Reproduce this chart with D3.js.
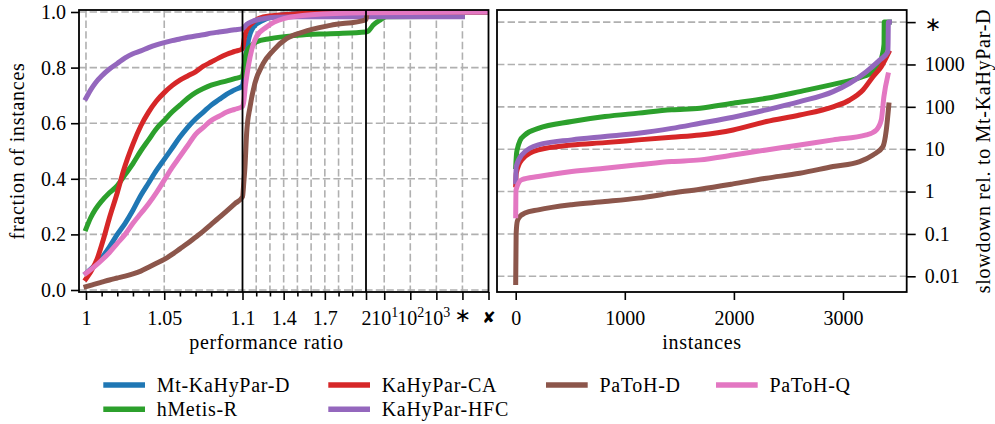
<!DOCTYPE html>
<html>
<head>
<meta charset="utf-8">
<script src="https://cdn.jsdelivr.net/npm/d3@7/dist/d3.min.js"></script>
<style>
  html, body { margin: 0; padding: 0; background: #fff; }
  svg text { font-family: "Liberation Serif", "Times New Roman", serif; fill: #000; }
  .sym { font-family: "DejaVu Sans", sans-serif; }
  .label { letter-spacing: 0.7px; }
</style>
</head>
<body>
<svg id="chart" width="995" height="424"></svg>
<script>
// ---- algorithms ----
const algoNames  = ["Mt-KaHyPar-D", "hMetis-R", "KaHyPar-CA", "KaHyPar-HFC", "PaToH-D", "PaToH-Q"];
const algoColors = ["#1f77b4", "#2ca02c", "#d62728", "#9467bd", "#8c564b", "#e377c2"];

// ---- performance profiles: [ratio, fraction of instances] ----
const profileMtKaHyParD = [
  [1, 0.06], [1.005, 0.085], [1.01, 0.115], [1.015, 0.155], [1.02, 0.2], [1.025, 0.24],
  [1.03, 0.287], [1.035, 0.34], [1.04, 0.385], [1.045, 0.43], [1.05, 0.47], [1.055, 0.51],
  [1.06, 0.55], [1.065, 0.585], [1.07, 0.615], [1.075, 0.64], [1.08, 0.665], [1.085, 0.685],
  [1.09, 0.705], [1.095, 0.72], [1.1, 0.735], [1.11, 0.77], [1.118, 0.814], [1.143, 0.898],
  [1.18, 0.946], [1.25, 0.97], [1.37, 0.988], [1.6, 0.997], [2, 1.0], [1e5, 1.0]
];
const profileHMetisR = [
  [1, 0.22], [1.003, 0.26], [1.006, 0.29], [1.01, 0.32], [1.015, 0.35], [1.02, 0.375],
  [1.025, 0.415], [1.03, 0.455], [1.035, 0.5], [1.04, 0.54], [1.045, 0.58], [1.05, 0.61],
  [1.055, 0.64], [1.06, 0.665], [1.065, 0.69], [1.07, 0.71], [1.075, 0.725], [1.08, 0.737],
  [1.085, 0.745], [1.09, 0.752], [1.095, 0.76], [1.1, 0.77], [1.11, 0.8], [1.118, 0.832],
  [1.135, 0.86], [1.155, 0.874], [1.2, 0.892], [1.3, 0.904], [1.5, 0.916], [1.74, 0.922],
  [2, 0.928], [2.5, 0.932], [3.8, 0.953], [6.9, 0.971], [12, 0.983], [1e4, 0.985]
];
const profileKaHyParCA = [
  [1, 0.04], [1.0035, 0.07], [1.007, 0.11], [1.011, 0.18], [1.015, 0.26], [1.02, 0.35],
  [1.024, 0.43], [1.03, 0.525], [1.035, 0.59], [1.04, 0.64], [1.045, 0.68], [1.05, 0.71],
  [1.055, 0.735], [1.06, 0.755], [1.065, 0.77], [1.07, 0.785], [1.075, 0.805], [1.08, 0.82],
  [1.085, 0.835], [1.09, 0.848], [1.095, 0.858], [1.1, 0.868], [1.115, 0.91], [1.13, 0.934],
  [1.18, 0.964], [1.25, 0.982], [1.5, 0.994], [2, 1.0], [1e5, 1.0]
];
const profileKaHyParHFC = [
  [1, 0.69], [1.003, 0.72], [1.006, 0.745], [1.01, 0.77], [1.015, 0.795], [1.02, 0.815],
  [1.025, 0.835], [1.03, 0.85], [1.035, 0.86], [1.04, 0.872], [1.045, 0.882], [1.05, 0.89],
  [1.055, 0.897], [1.06, 0.903], [1.065, 0.909], [1.07, 0.914], [1.075, 0.918], [1.08, 0.924],
  [1.085, 0.928], [1.09, 0.932], [1.095, 0.936], [1.1, 0.94], [1.13, 0.955], [1.17, 0.966],
  [1.25, 0.976], [1.35, 0.981], [1.5, 0.983], [2, 0.983], [1e4, 0.983]
];
const profilePaToHD = [
  [1, 0.012], [1.005, 0.02], [1.01, 0.028], [1.015, 0.036], [1.02, 0.043], [1.025, 0.05],
  [1.03, 0.058], [1.035, 0.068], [1.04, 0.082], [1.045, 0.096], [1.05, 0.11], [1.055, 0.128],
  [1.06, 0.148], [1.065, 0.168], [1.07, 0.19], [1.075, 0.212], [1.08, 0.236], [1.085, 0.26],
  [1.09, 0.285], [1.095, 0.31], [1.1, 0.335], [1.11, 0.39], [1.118, 0.443], [1.13, 0.563],
  [1.155, 0.659], [1.19, 0.743], [1.25, 0.814], [1.325, 0.862], [1.42, 0.904], [1.54, 0.928],
  [1.74, 0.952], [2, 0.972], [2.2, 0.995], [3, 1.0], [1e5, 1.0]
];
const profilePaToHQ = [
  [1, 0.06], [1.005, 0.082], [1.01, 0.107], [1.015, 0.135], [1.02, 0.168], [1.025, 0.2],
  [1.03, 0.24], [1.035, 0.275], [1.04, 0.31], [1.045, 0.35], [1.05, 0.395], [1.055, 0.44],
  [1.06, 0.48], [1.065, 0.52], [1.07, 0.56], [1.075, 0.585], [1.08, 0.61], [1.085, 0.625],
  [1.09, 0.64], [1.095, 0.65], [1.1, 0.66], [1.11, 0.68], [1.12, 0.73], [1.13, 0.766],
  [1.155, 0.838], [1.2, 0.91], [1.275, 0.946], [1.4, 0.976], [1.6, 0.99], [2, 0.997], [1e5, 1.0]
];

// ---- slowdown relative to Mt-KaHyPar-D, sorted: [instance, slowdown] (1e4 = failed / timeout) ----
const slowHMetisR = [
  [0, 3.9], [8, 8], [17, 10.5], [40, 16], [85, 21.8], [207, 31], [513, 45], [818, 59],
  [1123, 71], [1429, 85], [1690, 93], [1993, 122], [2298, 159], [2603, 229], [2909, 340],
  [3153, 490], [3275, 676], [3336, 1070], [3360, 1670], [3376, 3000], [3378, 10000], [3425, 10000]
];
const slowKaHyParCA = [
  [0, 1.44], [5, 2.7], [55, 5.6], [207, 9.6], [513, 12.6], [818, 14.3], [1123, 16.6],
  [1429, 19.2], [1690, 21.7], [1993, 28.5], [2298, 45], [2603, 64], [2909, 100], [3061, 145],
  [3183, 250], [3275, 515], [3351, 890], [3418, 1900]
];
const slowKaHyParHFC = [
  [0, 1.7], [5, 3.9], [55, 7.3], [207, 12.6], [513, 16.6], [818, 19.9], [1123, 23.8],
  [1429, 31], [1690, 41], [1993, 57], [2298, 85], [2603, 133], [2909, 229], [3061, 360],
  [3214, 676], [3336, 1270], [3412, 2000], [3416, 10000], [3425, 10000]
];
const slowPaToHD = [
  [0, 0.0071], [4, 0.1], [15, 0.2], [40, 0.26], [85, 0.31], [207, 0.37], [513, 0.49],
  [818, 0.58], [1123, 0.7], [1429, 0.92], [1690, 1.14], [1993, 1.52], [2298, 2.07],
  [2603, 2.7], [2909, 3.9], [3153, 5.1], [3275, 7.3], [3366, 11.5], [3397, 28.5], [3420, 110]
];
const slowPaToHQ = [
  [0, 0.27], [3, 1.1], [55, 1.9], [207, 2.26], [513, 2.96], [818, 3.56], [1123, 4.27],
  [1429, 5.1], [1690, 5.6], [1993, 7.3], [2298, 9.6], [2603, 12.6], [2909, 16.6],
  [3214, 21.7], [3306, 28.5], [3351, 49], [3375, 174], [3412, 565]
];

// ---- ticks ----
const fractionTicks = [0, 0.2, 0.4, 0.6, 0.8, 1.0];
const ratioMajorTicks = [1, 1.05, 1.1, 1.4, 1.7, 2, 10, 100, 1000, 1e4, 1e5];
const ratioMajorLabels = ["1", "1.05", "1.1", "1.4", "1.7", "2", "10^1", "10^2", "10^3", "∗", "✘"];
const ratioMinorTicks = [1.01, 1.02, 1.03, 1.04, 1.06, 1.07, 1.08, 1.09, 1.2, 1.3, 1.5, 1.6, 1.8, 1.9];
const ratioGridTicks = [1, 1.05, 1.2, 1.3, 1.4, 1.5, 1.6, 1.7, 1.8, 1.9, 10, 100, 1000, 1e4];
const ratioBreaks = [1.1, 2];
const instanceTicks = [0, 1000, 2000, 3000];
const slowdownTicks = [0.01, 0.1, 1, 10, 100, 1000, 1e4];
const slowdownLabels = ["0.01", "0.1", "1", "10", "100", "1000", "∗"];

const profiles = [profileMtKaHyParD, profileHMetisR, profileKaHyParCA, profileKaHyParHFC, profilePaToHD, profilePaToHQ];
const slowdowns = [null, slowHMetisR, slowKaHyParCA, slowKaHyParHFC, slowPaToHD, slowPaToHQ];

const svg = d3.select("#chart");
const FS = 20;
const GRID = "#b0b0b0";
const LW = 5;

// ================= left panel: performance profile =================
const L = { x0: 79, x1: 488.5, y0: 10, y1: 292 };

// piecewise x scale: linear up to 2, logarithmic beyond
const xLin = d3.scaleLinear().domain([0.99554, 1.1, 2]).range([L.x0, 242.5, 366]);
const xLog = d3.scaleLog().domain([2, 1e5]).range([366, L.x1]);
function xRatio(r) { return r <= 2 ? xLin(r) : xLog(r); }
xRatio.copy = () => xRatio;
xRatio.range = () => [L.x0, L.x1];
xRatio.domain = () => [0.99554, 1e5];

const yFrac = d3.scaleLinear().domain([0, 1]).range([290, 12]);

const left = svg.append("g");
left.append("clipPath").attr("id", "clipL")
  .append("rect").attr("x", L.x0).attr("y", L.y0).attr("width", L.x1 - L.x0).attr("height", L.y1 - L.y0);

// grid
left.append("g").selectAll("line").data(fractionTicks).join("line")
  .attr("x1", L.x0).attr("x2", L.x1).attr("y1", d => yFrac(d)).attr("y2", d => yFrac(d))
  .attr("stroke", GRID).attr("stroke-width", 1.6).attr("stroke-dasharray", "7.4,3.2");
left.append("g").selectAll("line").data(ratioGridTicks).join("line")
  .attr("x1", d => xRatio(d)).attr("x2", d => xRatio(d)).attr("y1", L.y0).attr("y2", L.y1)
  .attr("stroke", GRID).attr("stroke-width", 1.6).attr("stroke-dasharray", "7.4,3.2");

// profile curves
const lineL = d3.line().x(d => xRatio(d[0])).y(d => yFrac(d[1])).curve(d3.curveMonotoneX);
left.append("g").attr("clip-path", "url(#clipL)").selectAll("path").data(profiles).join("path")
  .attr("d", lineL).attr("fill", "none")
  .attr("stroke", (d, i) => algoColors[i]).attr("stroke-width", LW)
  .attr("stroke-linecap", "square").attr("stroke-linejoin", "round");

// segment separators
left.append("g").selectAll("line").data(ratioBreaks).join("line")
  .attr("x1", d => xRatio(d)).attr("x2", d => xRatio(d)).attr("y1", L.y0).attr("y2", L.y1)
  .attr("stroke", "#000").attr("stroke-width", 1.8);

// axes
const yAxisL = left.append("g").attr("transform", `translate(${L.x0},0)`)
  .call(d3.axisLeft(yFrac).tickValues(fractionTicks).tickFormat(d3.format(".1f")).tickSize(8).tickPadding(5));
const xAxisL = left.append("g").attr("transform", `translate(0,${L.y1})`)
  .call(d3.axisBottom(xRatio).tickValues(ratioMajorTicks).tickFormat("").tickSize(8));
left.append("g").attr("transform", `translate(0,${L.y1})`)
  .call(d3.axisBottom(xRatio).tickValues(ratioMinorTicks).tickFormat("").tickSize(4.5))
  .call(g => g.select(".domain").remove());

// x tick labels (with superscripts and symbols)
xAxisL.selectAll(".tick text").each(function (d) {
  const lab = ratioMajorLabels[ratioMajorTicks.indexOf(d)];
  const t = d3.select(this).attr("dy", null);
  t.text(null).attr("y", 32.5);
  if (lab.startsWith("10^")) {
    t.append("tspan").text("10");
    t.append("tspan").attr("font-size", 14).attr("dy", -8).text(lab.slice(3));
  } else if (lab === "∗" || lab === "✘") {
    t.attr("class", "sym").attr("font-size", lab === "∗" ? 20 : 16).attr("y", lab === "∗" ? 30 : 31).text(lab);
  } else {
    t.text(lab);
  }
});

// frame
left.append("rect").attr("x", L.x0).attr("y", L.y0).attr("width", L.x1 - L.x0).attr("height", L.y1 - L.y0)
  .attr("fill", "none").attr("stroke", "#000").attr("stroke-width", 1.8);

left.append("text").attr("class", "label").attr("x", 266.5).attr("y", 349).attr("text-anchor", "middle")
  .attr("font-size", FS).text("performance ratio");
left.append("text").attr("class", "label").attr("transform", "translate(23.5,151) rotate(-90)").attr("text-anchor", "middle")
  .attr("font-size", FS).text("fraction of instances");

// ================= right panel: running time =================
const R = { x0: 497, x1: 906.7, y0: 10, y1: 292 };
const xInst = d3.scaleLinear().domain([0, 3000]).range([515.7, 843]);
const ySlow = d3.scaleLog().domain([0.01, 1e4]).range([276.3, 22.1]);

const right = svg.append("g");
right.append("clipPath").attr("id", "clipR")
  .append("rect").attr("x", R.x0).attr("y", R.y0).attr("width", R.x1 - R.x0).attr("height", R.y1 - R.y0);

right.append("g").selectAll("line").data(slowdownTicks).join("line")
  .attr("x1", R.x0).attr("x2", R.x1).attr("y1", d => ySlow(d)).attr("y2", d => ySlow(d))
  .attr("stroke", GRID).attr("stroke-width", 1.6).attr("stroke-dasharray", "7.4,3.2");

const lineR = d3.line().x(d => xInst(d[0])).y(d => ySlow(d[1])).curve(d3.curveMonotoneX);
right.append("g").attr("clip-path", "url(#clipR)").selectAll("path")
  .data(slowdowns.map((s, i) => ({ s, i })).filter(o => o.s)).join("path")
  .attr("d", o => lineR(o.s)).attr("fill", "none")
  .attr("stroke", o => algoColors[o.i]).attr("stroke-width", LW)
  .attr("stroke-linecap", "square").attr("stroke-linejoin", "round");

const xAxisR = right.append("g").attr("transform", `translate(0,${R.y1})`)
  .call(d3.axisBottom(xInst).tickValues(instanceTicks).tickFormat(d3.format("d")).tickSize(8));
xAxisR.selectAll(".tick text").attr("y", 32.5).attr("dy", null);
const yAxisR = right.append("g").attr("transform", `translate(${R.x1},0)`)
  .call(d3.axisRight(ySlow).tickValues(slowdownTicks)
    .tickFormat(d => slowdownLabels[slowdownTicks.indexOf(d)]).tickSize(9).tickPadding(9));
yAxisR.selectAll(".tick text").filter(d => d === 1e4).attr("class", "sym").attr("dy", "0.4em");

right.append("rect").attr("x", R.x0).attr("y", R.y0).attr("width", R.x1 - R.x0).attr("height", R.y1 - R.y0)
  .attr("fill", "none").attr("stroke", "#000").attr("stroke-width", 1.8);

right.append("text").attr("class", "label").attr("x", 702).attr("y", 349).attr("text-anchor", "middle")
  .attr("font-size", FS).text("instances");
right.append("text").attr("class", "label").attr("transform", "translate(990,151) rotate(-90)").attr("text-anchor", "middle")
  .attr("font-size", FS).text("slowdown rel. to Mt-KaHyPar-D");

// shared axis styling
svg.selectAll(".domain").remove();
svg.selectAll(".tick line").attr("stroke", "#000").attr("stroke-width", 1.6);
svg.selectAll(".tick text").attr("font-size", function () {
  return d3.select(this).attr("font-size") || FS;
}).attr("font-family", null);

// ================= legend =================
const legendColX = [103.3, 328.3, 546, 716];
const legendRowY = [385, 409.3];
const legendSlots = [[0, 0], [1, 0], [0, 1], [1, 1], [0, 2], [0, 3]]; // [row, col] per algorithm
const legend = svg.append("g").selectAll("g").data(algoNames).join("g")
  .attr("transform", (d, i) => `translate(${legendColX[legendSlots[i][1]]},${legendRowY[legendSlots[i][0]]})`);
legend.append("line").attr("x1", 0).attr("x2", 41.7).attr("y1", 0).attr("y2", 0)
  .attr("stroke", (d, i) => algoColors[i]).attr("stroke-width", LW + 0.5);
legend.append("text").attr("class", "label").attr("x", 53.4).attr("y", 6.5).attr("font-size", FS).text(d => d);
</script>
</body>
</html>
